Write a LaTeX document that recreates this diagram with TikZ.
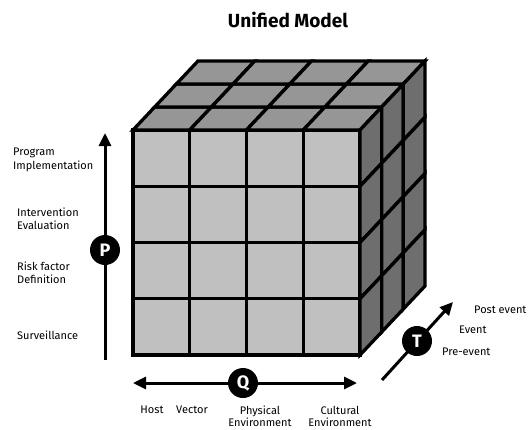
\documentclass[tikz,border=0pt]{standalone}
\usepackage{fontspec}
\setmainfont{Fira Sans}
\usetikzlibrary{arrows.meta}
\definecolor{frontgray}{RGB}{192,192,192}
\definecolor{topgray}{RGB}{150,150,150}
\definecolor{sidegray}{RGB}{110,110,110}
\begin{document}
\begin{tikzpicture}[x=1pt, y=-1pt,
    front/.style={fill=frontgray, draw=black, line width=3.3pt},
    topface/.style={fill=topgray, draw=black, line width=3.3pt},
    sideface/.style={fill=sidegray, draw=black, line width=3.3pt},
    badge/.style={circle, fill=black, text=white, minimum size=30pt, inner sep=0pt, font=\bfseries\fontsize{18}{18}\selectfont},
    axis/.style={line width=3pt},
    >={Triangle[length=13pt, width=12pt]},
    lbl/.style={font=\fontsize{11}{13.5}\selectfont, align=left, inner sep=0pt},
    qlbl/.style={font=\fontsize{11}{12}\selectfont, align=center, inner sep=0pt}]

    \useasboundingbox (0,0) rectangle (528,429);

    % Title
    \node[font=\bfseries\fontsize{19}{22}\selectfont] (title) at (288,20) {Unified Model};

    % Front face (4 x 4 cells)
    \foreach \i in {0,...,3} {
        \foreach \j in {0,...,3} {
            \draw[front] ({133+56.75*\i},{130+56.25*\j}) rectangle ++(56.75,56.25);
        }
    }

    % Top face (4 columns, 3 deep)
    \foreach \i in {0,...,3} {
        \foreach \k in {0,1,2} {
            \draw[topface] ({133+56.75*\i+21.67*\k},{130-23*\k}) -- ++(56.75,0) -- ++(21.67,-23) -- ++(-56.75,0) -- cycle;
        }
    }

    % Side face (3 deep, 4 rows)
    \foreach \k in {0,1,2} {
        \foreach \j in {0,...,3} {
            \draw[sideface] ({360+21.67*\k},{130+56.25*\j-23*\k}) -- ++(21.67,-23) -- ++(0,56.25) -- ++(-21.67,23) -- cycle;
        }
    }

    % P axis
    \coordinate (Pbot) at (105,360);
    \coordinate (Ptop) at (105,133);
    \draw[axis, ->] (Pbot) -- (Ptop);
    \node[badge] (P) at (105,250) {P};

    \node[lbl, anchor=west] (prog) at (13,160) {Program\\Implementation};
    \node[lbl, anchor=west] (interv) at (17,219) {Intervention\\Evaluation};
    \node[lbl, anchor=west] (risk) at (17,273) {Risk factor\\Definition};
    \node[lbl, anchor=west] (surv) at (17,335) {Surveillance};

    % Q axis
    \coordinate (Qleft) at (133,383);
    \coordinate (Qright) at (357,383);
    \draw[axis, <->] (Qleft) -- (Qright);
    \node[badge] (Q) at (243,383) {Q};

    \node[qlbl, anchor=north] (host) at (152,406) {Host};
    \node[qlbl, anchor=north] (vector) at (192,406) {Vector};
    \node[qlbl, anchor=north] (phys) at (260,406) {Physical\\Environment};
    \node[qlbl, anchor=north] (cult) at (340,406) {Cultural\\Environment};

    % T axis
    \coordinate (Tstart) at (382,380);
    \coordinate (Tend) at (453,302);
    \draw[axis, ->] (Tstart) -- (Tend);
    \node[badge] (T) at (417,341) {T};

    \node[lbl, anchor=west] (post) at (474,310) {Post event};
    \node[lbl, anchor=west] (event) at (459,330) {Event};
    \node[lbl, anchor=west] (pre) at (442,352) {Pre-event};
\end{tikzpicture}
\end{document}
